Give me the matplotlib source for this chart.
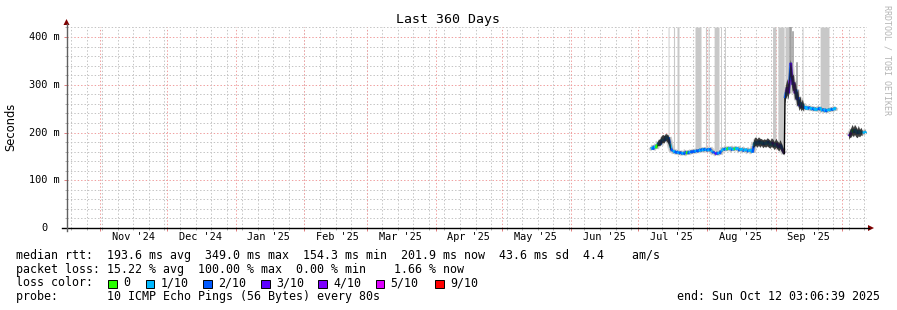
import numpy as np
import matplotlib
matplotlib.use("Agg")
import matplotlib.pyplot as plt
from matplotlib.transforms import Affine2D
from matplotlib.patches import Polygon, Rectangle
from matplotlib.lines import Line2D
from datetime import datetime

W, H = 897, 310
MONO = "DejaVu Sans Mono"

# time axis: 360 days ending Sun Oct 12 03:06:39 2025
t_start = datetime(2024, 10, 17, 3, 6, 39)
month_starts = [datetime(2024, m, 1) for m in (11, 12)] + [datetime(2025, m, 1) for m in range(1, 11)]
month_labels = ["Nov '24", "Dec '24", "Jan '25", "Feb '25", "Mar '25", "Apr '25",
                "May '25", "Jun '25", "Jul '25", "Aug '25", "Sep '25"]
first_week = datetime(2024, 10, 19)

# median rtt (days since start, ms, loss level out of 10)
rtt_days = [263.0, 263.6, 264.3, 265.0, 265.6, 266.3, 267.0, 267.6, 268.3, 268.9,
            269.5, 270.1, 270.7, 271.3, 271.8, 272.3, 272.9, 273.5, 274.2, 274.8,
            275.5, 276.1, 276.8, 277.4, 278.1, 278.7, 279.4, 280.0, 280.7, 281.3,
            282.0, 282.6, 283.3, 283.9, 284.6, 285.2, 285.9, 286.5, 287.2, 287.8,
            288.5, 289.1, 289.8, 290.4, 291.1, 291.7, 292.4, 293.0, 293.7, 294.3,
            295.0, 295.6, 296.3, 296.9, 297.6, 298.2, 298.9, 299.5, 300.2, 300.8,
            301.5, 302.1, 302.8, 303.4, 304.1, 304.7, 305.4, 306.0, 306.7, 307.3,
            308.0, 308.5, 309.0, 309.5, 310.1, 310.7, 311.4, 312.0, 312.7, 313.3,
            314.0, 314.6, 315.3, 315.9, 316.6, 317.2, 317.9, 318.5, 319.2, 319.8,
            320.5, 321.1, 321.8, 322.4, 322.8, 323.1, 323.6, 324.2, 324.7, 325.2,
            325.7, 326.1, 326.6, 327.1, 327.6, 328.1, 328.6, 329.1, 329.6, 330.1,
            330.6, 331.1, 331.7, 332.3, 332.9, 333.6, 334.2, 334.9, 335.5, 336.2,
            336.8, 337.5, 338.1, 338.8, 339.4, 340.1, 340.7, 341.4, 342.0, 342.7,
            343.3, 344.0, 344.6, 345.3, 345.8, 348.0,
            351.9, 352.4, 353.0, 353.5, 354.1, 354.6, 355.2, 355.8, 356.3, 356.9,
            357.5, 358.0, 358.6, 359.2, 359.7]
rtt_ms = [170, 164, 172, 167, 175, 178, 174, 184, 186, 182,
          192, 186, 190, 177, 167, 161, 163, 157, 161, 156,
          160, 155, 159, 154, 158, 160, 155, 161, 157, 162,
          158, 163, 159, 164, 160, 166, 161, 167, 162, 166,
          161, 167, 162, 160, 157, 158, 154, 159, 155, 162,
          163, 167, 163, 168, 164, 169, 165, 163, 168, 164,
          169, 164, 162, 167, 163, 161, 166, 162, 160, 165,
          161, 158, 172, 179, 181, 175, 183, 176, 181, 174,
          180, 175, 182, 177, 173, 180, 175, 171, 178, 172,
          168, 175, 165, 160, 156, 272, 285, 295, 282, 310,
          346, 320, 300, 305, 282, 290, 268, 274, 255, 263,
          252, 260, 250, 255, 248, 254, 249, 253, 247, 252,
          246, 251, 247, 253, 248, 245, 250, 243, 249, 245,
          250, 246, 251, 247, 253, np.nan,
          192, 196, 200, 206, 199, 207, 201, 197, 204, 198,
          202, 199, 201, 200, 202]
rtt_loss = [1, 2, 1, 0, 1, 1, 2, 1, 1, 2,
            1, 1, 2, 1, 2, 2, 1, 2, 2, 1,
            2, 2, 1, 2, 2, 0, 2, 1, 2, 2,
            2, 1, 2, 2, 1, 2, 1, 2, 1, 2,
            1, 2, 1, 2, 2, 3, 2, 1, 2, 1,
            1, 2, 1, 0, 1, 1, 2, 1, 0, 1,
            1, 2, 1, 1, 2, 1, 1, 2, 1, 1,
            1, 2, 1, 1, 2, 1, 2, 1, 1, 2,
            1, 1, 2, 1, 1, 3, 2, 1, 3, 2,
            3, 2, 3, 4, 3, 2, 3, 4, 3, 2,
            3, 3, 2, 4, 3, 2, 3, 2, 3, 1,
            3, 1, 2, 1, 1, 2, 1, 1, 2, 1,
            1, 1, 2, 1, 1, 2, 1, 2, 1, 1,
            1, 2, 1, 1, 9, 0,
            3, 4, 1, 0, 2, 1, 1, 2, 1, 1,
            1, 1, 1, 1, 1]

# dense (dark) smoke bands
smoke_days = [265.6, 266.3, 267.0, 267.6, 268.3, 268.9, 269.5, 270.1, 270.7, 271.3, 271.8, 272.0,
              308.8, 309.5, 310.1, 310.7, 311.4, 312.0, 312.7, 313.3, 314.0, 314.6, 315.3, 315.9,
              316.6, 317.2, 317.9, 318.5, 319.2, 319.8, 320.5, 321.1, 321.8, 322.4, 322.8,
              323.1, 323.6, 324.2, 324.7, 325.2, 325.7, 326.1, 326.6, 327.1, 327.6, 328.1,
              328.6, 329.1, 329.6, 330.1, 330.6, 331.1, 331.7, 332.0,
              351.9, 352.4, 353.0, 353.5, 354.1, 354.6, 355.2, 355.8, 356.3, 356.9, 357.5, 358.0]
smoke_lo = [170, 172, 171, 176, 178, 177, 183, 180, 176, 168, 162, np.nan,
            166, 170, 172, 168, 172, 168, 172, 167, 170, 168, 171, 168,
            166, 170, 167, 163, 168, 164, 160, 165, 158, 154, 152,
            260, 270, 278, 268, 290, 318, 300, 285, 288, 268, 272,
            255, 258, 245, 250, 244, 248, 243, np.nan,
            186, 188, 190, 194, 190, 195, 190, 188, 192, 190, 194, 192]
smoke_hi = [178, 184, 186, 192, 195, 193, 197, 196, 194, 186, 172, np.nan,
            178, 188, 190, 186, 190, 187, 186, 184, 186, 184, 188, 186,
            182, 188, 185, 180, 187, 182, 178, 184, 176, 168, 164,
            282, 300, 312, 300, 330, 352, 340, 318, 322, 300, 308,
            284, 290, 268, 276, 262, 270, 258, np.nan,
            198, 204, 210, 216, 210, 216, 212, 206, 214, 206, 210, 204]

# light smoke reaching the top of the graph
bar_start = [270.5, 272.9, 274.5, 282.6, 287.3, 288.5, 291.2, 294.1, 295.9,
             317.5, 319.9, 323.1, 330.8, 338.9]
bar_end = [270.9, 273.4, 275.4, 285.3, 287.8, 288.9, 293.4, 294.5, 296.3,
           319.0, 322.7, 324.7, 331.2, 342.9]
spike_days = [325.4, 325.9, 326.7, 328.3]
spike_tops = [421, 421, 410, 345]

loss_colors = {0: "#26ff00", 1: "#00b8ff", 2: "#0059ff", 3: "#5e00ff",
               4: "#7e00ff", 5: "#dd00ff", 9: "#ff0000"}
legend_levels = [0, 1, 2, 3, 4, 5, 9]
legend_names = ["0", "1/10", "2/10", "3/10", "4/10", "5/10", "9/10"]

y_major = [0, 100, 200, 300, 400]
y_labels = ["0", "100 m", "200 m", "300 m", "400 m"]


def day_of(dt):
    return (dt - t_start).total_seconds() / 86400.0


fig = plt.figure(figsize=(W / 100, H / 100), dpi=100)
fig.patch.set_facecolor("white")
pix = Affine2D().scale(1.0 / W, -1.0 / H).translate(0, 1) + fig.transFigure

x0, x1, y0, y1 = 67, 867, 228, 27
ax = fig.add_axes([x0 / W, 1 - y0 / H, (x1 - x0) / W, (y0 - y1) / H])
ax.set_xlim(0, 360)
ax.set_ylim(0, 421)
for s in ax.spines.values():
    s.set_visible(False)

month_days = [day_of(m) for m in month_starts]
week_days = list(np.arange(day_of(first_week), 360, 7.0))

ax.set_xticks(month_days)
ax.set_xticks(week_days, minor=True)
ax.set_yticks(y_major)
ax.set_yticks([v for v in range(20, 421, 20) if v % 100], minor=True)
ax.set_xticklabels([])
ax.set_yticklabels([])
ax.tick_params(which="major", length=2.2, width=0.72, color="#e08080")
ax.tick_params(which="minor", length=1.5, width=0.72, color="#b0b0b0")

dots = (0, (1.4, 2.0))
for v in range(20, 421, 20):
    c = "#f0a0a0" if v % 100 == 0 else "#c4c4c4"
    ax.axhline(v, color=c, lw=0.72, ls=dots, zorder=1, snap=True)
for d in week_days:
    ax.axvline(d, color="#c4c4c4", lw=0.72, ls=dots, zorder=1, snap=True)
for d in month_days:
    ax.axvline(d, color="#f0a0a0", lw=0.72, ls=dots, zorder=1, snap=True)

days = np.array(rtt_days)
ms = np.array(rtt_ms, dtype=float)
ok = ~np.isnan(ms)

# light smoke bars
for s, e in zip(bar_start, bar_end):
    xs = np.linspace(s, e, 5)
    base = np.interp(xs, days[ok], ms[ok])
    ax.fill_between(xs, base, 421, color="#c8c8c8", lw=0, zorder=2)
for d, top in zip(spike_days, spike_tops):
    base = np.interp(d, days[ok], ms[ok])
    ax.plot([d, d], [base, top], color="#9a9a9a", lw=1.1, zorder=2.5)

# smoke halo + median coloured by loss
for i in range(len(days) - 1):
    if np.isnan(ms[i]) or np.isnan(ms[i + 1]):
        continue
    seg_x, seg_y = days[i:i + 2], ms[i:i + 2]
    if abs(ms[i + 1] - ms[i]) > 50:
        ax.plot(seg_x, seg_y, color="black", lw=1.0, zorder=4)
        continue
    ax.plot(seg_x, seg_y, color="#cfcfcf", lw=4.6, zorder=3, solid_capstyle="butt")
    ax.plot(seg_x, seg_y, color="#2a2a2a", lw=2.6, alpha=0.3, zorder=3.2,
            solid_capstyle="butt")
    ax.plot(seg_x, seg_y, color=loss_colors[rtt_loss[i]], lw=1.7,
            zorder=4, solid_capstyle="butt")
ax.fill_between(smoke_days, smoke_lo, smoke_hi, color="#181818", alpha=0.82, lw=0, zorder=5)

# axes lines and arrows
fig.add_artist(Line2D([62, 869], [228, 228], transform=pix, color="black", lw=1.0))
fig.add_artist(Line2D([66.5, 66.5], [231, 24], transform=pix, color="#606060", lw=1.0))
fig.add_artist(Polygon([[874, 228], [868, 225], [868, 231]], closed=True, transform=pix,
                       color="#7f0000", lw=0))
fig.add_artist(Polygon([[66.5, 19], [63.5, 25], [69.5, 25]], closed=True, transform=pix,
                       color="#7f0000", lw=0))

# tick labels
for v, lab in zip(y_major, y_labels):
    yp = y0 - v * (y0 - y1) / 421.0
    xr = 60 if lab != "0" else 48
    fig.text(xr, yp, lab, transform=pix, ha="right", va="center",
             family=MONO, fontsize=7.4)
for m, lab in zip(month_starts, month_labels):
    d = day_of(m.replace(day=16))
    xp = x0 + d * (x1 - x0) / 360.0
    fig.text(xp, 240.5, lab, transform=pix, ha="center", va="baseline",
             family=MONO, fontsize=7.4)

fig.text(448, 23, "Last 360 Days", transform=pix, ha="center", va="baseline",
         family=MONO, fontsize=9.5)
fig.text(11, 127, "Seconds", transform=pix, ha="center", va="center",
         rotation=90, family="DejaVu Sans", fontsize=8.3)
fig.text(887.5, 60, "RRDTOOL / TOBI OETIKER", transform=pix, ha="center", va="center",
         rotation=270, family=MONO, fontsize=6, color="#b4b4b4")

# legend block
fs = 8.4
fig.text(16, 259, "median rtt:  193.6 ms avg  349.0 ms max  154.3 ms min  201.9 ms now  "
         "43.6 ms sd  4.4    am/s", transform=pix, va="baseline", family=MONO, fontsize=fs)
fig.text(16, 272.5, "packet loss: 15.22 % avg  100.00 % max  0.00 % min    1.66 % now",
         transform=pix, va="baseline", family=MONO, fontsize=fs)
fig.text(16, 286.5, "loss color:", transform=pix, va="baseline", family=MONO, fontsize=fs)
sw_x = [108.3, 145.7, 203.3, 261, 318.3, 375.7, 435]
for xs_, lvl, name in zip(sw_x, legend_levels, legend_names):
    fig.add_artist(Rectangle((xs_, 288), 8.5, -8.5, transform=pix,
                             facecolor=loss_colors[lvl], edgecolor="black", lw=0.7))
    fig.text(xs_ + 15, 286.5, name, transform=pix, va="baseline", family=MONO, fontsize=fs)
fig.text(16, 300, "probe:       10 ICMP Echo Pings (56 Bytes) every 80s",
         transform=pix, va="baseline", family=MONO, fontsize=fs)
fig.text(880, 300, "end: Sun Oct 12 03:06:39 2025", transform=pix, ha="right",
         va="baseline", family=MONO, fontsize=fs)

fig.savefig("out.png", dpi=100, facecolor="white")
